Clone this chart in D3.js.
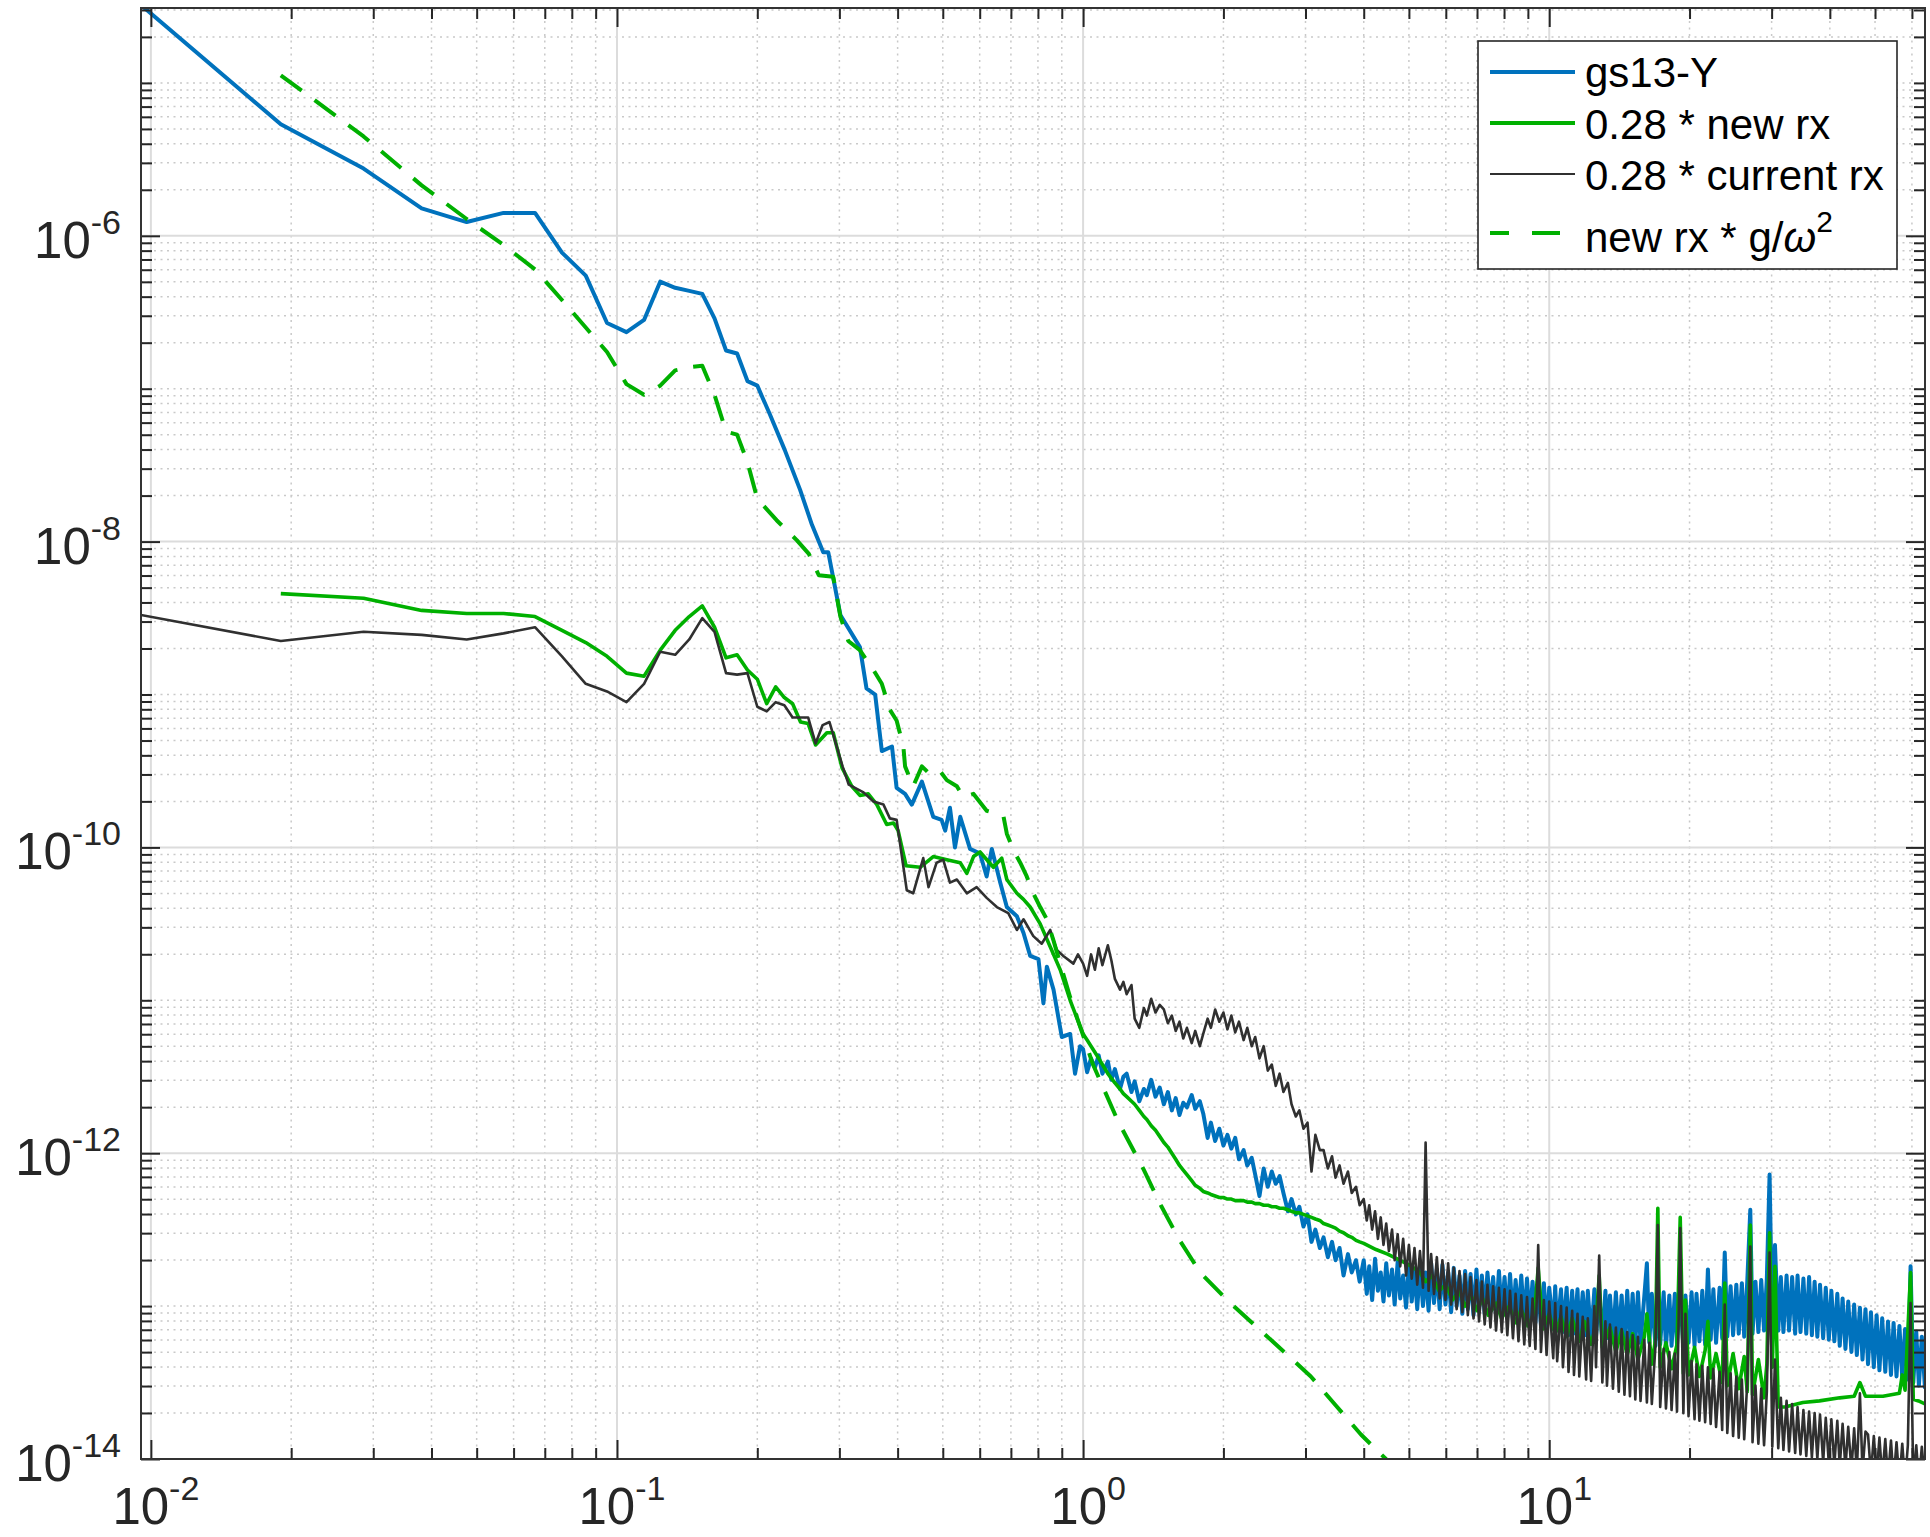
<!DOCTYPE html>
<html>
<head>
<meta charset="utf-8">
<script src="https://cdn.jsdelivr.net/npm/d3@7"></script>
<style>
  html, body { margin: 0; padding: 0; background: #fff; }
  svg { display: block; }
  text { font-family: "Liberation Sans", Arial, Helvetica, sans-serif; }
</style>
</head>
<body>
<svg id="chart" width="1930" height="1537"></svg>
<script>
// ---------------------------------------------------------------------------
// Spectra. Values are log10 of the power spectral density.
// Below 1 Hz each spectrum is a list of [frequency Hz, log10 PSD] pairs.
// 1-4 Hz: shared grid midFreq. 4-64 Hz: shared grid highFreq (gs13-Y and
// current rx); the new rx spectrum keeps its own pairs there.
// ---------------------------------------------------------------------------
const seriesNames = ["gs13-Y", "0.28 * new rx", "0.28 * current rx", "new rx * g/ω²"];
const xTickExponents = [-2, -1, 0, 1];
const yTickExponents = [-14, -12, -10, -8, -6];

const midFreq = [
  1.00, 1.02, 1.04, 1.06, 1.08, 1.10, 1.13, 1.15, 1.17, 1.20,
  1.22, 1.24, 1.27, 1.29, 1.32, 1.35, 1.37, 1.40, 1.43, 1.46,
  1.49, 1.52, 1.55, 1.58, 1.61, 1.64, 1.67, 1.71, 1.74, 1.78,
  1.81, 1.85, 1.88, 1.92, 1.96, 2.00, 2.04, 2.08, 2.12, 2.16,
  2.21, 2.25, 2.30, 2.34, 2.39, 2.44, 2.49, 2.54, 2.59, 2.64,
  2.69, 2.75, 2.80, 2.86, 2.91, 2.97, 3.03, 3.09, 3.15, 3.22,
  3.28, 3.35, 3.42, 3.48, 3.55, 3.62, 3.70, 3.77, 3.85, 3.92
];

const highFreq = [
  4.00, 4.06, 4.11, 4.17, 4.23, 4.29, 4.35, 4.41, 4.47, 4.53,
  4.60, 4.66, 4.73, 4.79, 4.86, 4.93, 5.00, 5.07, 5.14, 5.21,
  5.28, 5.36, 5.43, 5.51, 5.58, 5.66, 5.74, 5.82, 5.90, 5.99,
  6.07, 6.16, 6.24, 6.33, 6.42, 6.51, 6.60, 6.69, 6.78, 6.88,
  6.98, 7.07, 7.17, 7.27, 7.37, 7.48, 7.58, 7.69, 7.80, 7.91,
  8.02, 8.13, 8.24, 8.36, 8.47, 8.59, 8.71, 8.84, 8.96, 9.08,
  9.21, 9.34, 9.47, 9.60, 9.74, 9.87, 10.0, 10.2, 10.3, 10.4,
  10.6, 10.7, 10.9, 11.0, 11.2, 11.3, 11.5, 11.6, 11.8, 12.0,
  12.1, 12.3, 12.5, 12.6, 12.8, 13.0, 13.2, 13.3, 13.5, 13.7,
  13.9, 14.1, 14.3, 14.5, 14.7, 14.9, 15.1, 15.3, 15.5, 15.7,
  16.0, 16.2, 16.4, 16.6, 16.9, 17.1, 17.3, 17.6, 17.8, 18.1,
  18.3, 18.6, 18.8, 19.1, 19.4, 19.6, 19.9, 20.2, 20.5, 20.7,
  21.0, 21.3, 21.6, 21.9, 22.2, 22.5, 22.8, 23.2, 23.5, 23.8,
  24.1, 24.5, 24.8, 25.2, 25.5, 25.9, 26.2, 26.6, 27.0, 27.3,
  27.7, 28.1, 28.5, 28.9, 29.3, 29.7, 30.1, 30.5, 31.0, 31.4,
  31.8, 32.3, 32.7, 33.2, 33.7, 34.1, 34.6, 35.1, 35.6, 36.1,
  36.6, 37.1, 37.6, 38.1, 38.7, 39.2, 39.8, 40.3, 40.9, 41.5,
  42.0, 42.6, 43.2, 43.8, 44.5, 45.1, 45.7, 46.4, 47.0, 47.7,
  48.3, 49.0, 49.7, 50.4, 51.1, 51.8, 52.6, 53.3, 54.1, 54.8,
  55.6, 56.4, 57.2, 58.0, 58.8, 59.6, 60.4, 61.3, 62.1, 63.0,
  64.0
];

// gs13-Y
const gs13Low = [
  [0.00952, -4.49], [0.0190, -5.27], [0.0286, -5.56], [0.0381, -5.82], [0.0476, -5.91],
  [0.0571, -5.85], [0.0667, -5.85], [0.0762, -6.11], [0.0857, -6.26], [0.0952, -6.57],
  [0.1048, -6.63], [0.1143, -6.55], [0.1238, -6.30], [0.1333, -6.34], [0.1429, -6.36],
  [0.1524, -6.38], [0.1619, -6.54], [0.1714, -6.75], [0.1810, -6.77], [0.1905, -6.95],
  [0.2000, -6.98], [0.213, -7.17], [0.229, -7.40], [0.247, -7.66], [0.262, -7.89],
  [0.277, -8.07], [0.284, -8.07], [0.3015, -8.48], [0.332, -8.69], [0.343, -8.96],
  [0.358, -9.00], [0.370, -9.37], [0.389, -9.34], [0.398, -9.61], [0.415, -9.65],
  [0.429, -9.72], [0.451, -9.57], [0.477, -9.80], [0.497, -9.82], [0.506, -9.89],
  [0.518, -9.74], [0.531, -10.00], [0.545, -9.80], [0.572, -10.01], [0.601, -10.04],
  [0.621, -10.19], [0.637, -10.01], [0.664, -10.23], [0.686, -10.39], [0.721, -10.45],
  [0.745, -10.56], [0.770, -10.71], [0.802, -10.73], [0.822, -11.02], [0.836, -10.78],
  [0.864, -10.93], [0.900, -11.24], [0.938, -11.22], [0.961, -11.48], [0.985, -11.30]
];
const gs13Mid = [
  -11.32, -11.47, -11.38, -11.44, -11.36, -11.48, -11.40, -11.52, -11.45, -11.58,
  -11.50, -11.48, -11.60, -11.53, -11.66, -11.58, -11.62, -11.52, -11.63, -11.57,
  -11.68, -11.60, -11.72, -11.64, -11.75, -11.67, -11.70, -11.62, -11.71, -11.66,
  -11.74, -11.90, -11.80, -11.92, -11.84, -11.95, -11.88, -11.97, -11.90, -12.04,
  -11.98, -12.08, -12.03, -12.14, -12.28, -12.10, -12.22, -12.12, -12.20, -12.15,
  -12.26, -12.38, -12.30, -12.40, -12.35, -12.48, -12.40, -12.58, -12.50, -12.62,
  -12.55, -12.68, -12.58, -12.70, -12.62, -12.80, -12.66, -12.78, -12.70, -12.84
];
const gs13High = [
  -12.70, -12.92, -12.74, -12.96, -12.69, -12.90, -12.78, -12.97, -12.72, -12.93,
  -12.76, -12.99, -12.71, -12.95, -12.80, -13.01, -12.73, -12.97, -12.77, -13.02,
  -12.74, -13.00, -12.78, -13.03, -12.72, -12.98, -12.76, -13.02, -12.73, -12.99,
  -12.78, -13.04, -12.75, -13.00, -12.80, -13.05, -12.77, -13.02, -12.79, -13.06,
  -12.76, -13.03, -12.80, -13.05, -12.78, -13.01, -12.81, -13.06, -12.77, -13.04,
  -12.81, -13.07, -12.79, -13.09, -12.83, -13.06, -12.80, -13.10, -12.82, -13.08,
  -12.84, -13.11, -12.86, -13.13, -12.85, -13.14, -12.88, -13.15, -12.87, -13.16,
  -12.89, -13.17, -12.88, -13.19, -12.90, -13.18, -12.89, -13.20, -12.91, -13.19,
  -12.90, -13.21, -12.89, -13.20, -12.92, -13.22, -12.90, -13.21, -12.93, -13.23,
  -12.91, -13.22, -12.93, -13.24, -12.90, -13.23, -12.92, -13.25, -12.91, -13.24,
  -12.93, -12.72, -13.24, -12.92, -13.26, -12.94, -13.25, -12.91, -13.27, -12.93,
  -13.26, -12.92, -13.25, -12.90, -13.27, -12.93, -13.24, -12.91, -13.26, -12.92,
  -13.23, -12.90, -13.25, -12.76, -13.22, -12.89, -13.24, -12.88, -13.21, -12.65,
  -13.20, -12.87, -13.19, -12.86, -13.18, -12.85, -13.20, -12.84, -12.37, -13.18,
  -12.84, -13.17, -12.83, -13.16, -12.82, -12.14, -13.15, -12.60, -13.16, -12.81,
  -13.17, -12.80, -13.16, -12.81, -13.18, -12.80, -13.17, -12.82, -13.18, -12.81,
  -13.19, -12.84, -13.20, -12.86, -13.21, -12.88, -13.22, -12.90, -13.23, -12.92,
  -13.26, -12.95, -13.28, -12.97, -13.30, -12.99, -13.32, -13.01, -13.35, -13.02,
  -13.38, -13.04, -13.40, -13.06, -13.42, -13.08, -13.43, -13.10, -13.45, -13.11,
  -13.46, -13.13, -13.47, -13.15, -13.48, -12.74, -13.50, -13.17, -13.52, -13.20,
  -13.54
];

// 0.28 * new rx
const newRxLow = [
  [0.0190, -8.34], [0.0286, -8.37], [0.0381, -8.45], [0.0476, -8.47], [0.0571, -8.47],
  [0.0667, -8.49], [0.0762, -8.58], [0.0857, -8.66], [0.0952, -8.75], [0.1048, -8.86],
  [0.1143, -8.88], [0.1238, -8.71], [0.1333, -8.58], [0.1429, -8.49], [0.1524, -8.42],
  [0.1619, -8.56], [0.1714, -8.76], [0.1810, -8.74], [0.1905, -8.84], [0.2000, -8.90],
  [0.2095, -9.06], [0.2190, -8.95], [0.2286, -9.02], [0.2381, -9.06], [0.2476, -9.18],
  [0.2571, -9.19], [0.2667, -9.33], [0.282, -9.25], [0.291, -9.25], [0.304, -9.48],
  [0.319, -9.60], [0.332, -9.66], [0.346, -9.65], [0.361, -9.72], [0.379, -9.85],
  [0.392, -9.84], [0.401, -9.89], [0.417, -10.12], [0.447, -10.13], [0.477, -10.06],
  [0.510, -10.08], [0.545, -10.10], [0.563, -10.17], [0.582, -10.06], [0.601, -10.03],
  [0.642, -10.13], [0.669, -10.07], [0.686, -10.21], [0.721, -10.30], [0.745, -10.34],
  [0.770, -10.39], [0.809, -10.50], [0.850, -10.65], [0.893, -10.80], [0.938, -11.00],
  [0.985, -11.17]
];
const newRxMid = [
  -11.22, -11.26, -11.30, -11.34, -11.38, -11.42, -11.48, -11.51, -11.54, -11.58,
  -11.61, -11.63, -11.66, -11.68, -11.72, -11.76, -11.78, -11.82, -11.85, -11.89,
  -11.93, -11.96, -12.00, -12.04, -12.08, -12.11, -12.14, -12.18, -12.21, -12.23,
  -12.25, -12.26, -12.27, -12.28, -12.29, -12.29, -12.30, -12.30, -12.31, -12.31,
  -12.31, -12.32, -12.32, -12.33, -12.33, -12.34, -12.34, -12.35, -12.35, -12.36,
  -12.36, -12.37, -12.38, -12.39, -12.39, -12.40, -12.41, -12.42, -12.43, -12.44,
  -12.46, -12.47, -12.48, -12.49, -12.51, -12.52, -12.54, -12.55, -12.57, -12.58
];
const newRxHigh = [
  [4.00, -12.59], [4.25, -12.63], [4.50, -12.66], [4.78, -12.70], [5.07, -12.74],
  [5.28, -12.78], [5.43, -12.84], [5.60, -12.80], [5.80, -12.90], [6.00, -12.86],
  [6.20, -12.96], [6.40, -12.90], [6.60, -13.00], [6.80, -12.93], [7.00, -13.03],
  [7.20, -12.95], [7.40, -13.06], [7.70, -12.98], [7.90, -13.08], [8.20, -13.00],
  [8.50, -13.11], [8.70, -13.02], [9.00, -13.13], [9.30, -13.04], [9.47, -12.75],
  [9.70, -13.15], [10.0, -13.05], [10.3, -13.18], [10.6, -13.07], [10.9, -13.20],
  [11.2, -13.08], [11.6, -13.23], [11.9, -13.10], [12.3, -13.25], [12.6, -13.12],
  [12.8, -12.80], [13.0, -13.27], [13.5, -13.14], [13.9, -13.30], [14.3, -13.16],
  [14.7, -13.32], [15.1, -13.18], [15.5, -13.35], [16.0, -13.20], [16.2, -13.05],
  [16.6, -13.38], [16.9, -13.22], [17.1, -12.36], [17.3, -13.40], [17.8, -13.24],
  [18.3, -13.41], [18.8, -13.25], [19.1, -12.42], [19.4, -13.44], [19.6, -12.96],
  [19.9, -13.45], [20.5, -13.27], [21.0, -13.46], [21.6, -13.29], [21.9, -13.10],
  [22.2, -13.47], [22.8, -13.31], [23.5, -13.50], [23.8, -12.85], [24.1, -13.52],
  [24.8, -13.31], [25.5, -13.54], [26.2, -13.33], [26.6, -13.56], [27.0, -12.47],
  [27.3, -13.58], [28.1, -13.35], [28.9, -13.60], [29.3, -13.38], [29.7, -12.52],
  [30.1, -13.40], [30.5, -12.74], [31.0, -13.66], [32.0, -13.66], [33.0, -13.65],
  [35.0, -13.63], [38.0, -13.62], [42.0, -13.60], [45.1, -13.59], [46.4, -13.50],
  [47.7, -13.59], [52.0, -13.59], [56.4, -13.57], [57.2, -13.45], [58.0, -13.55],
  [59.6, -12.78], [60.4, -13.61], [62.0, -13.62], [64.0, -13.64]
];

// 0.28 * current rx
const currentRxLow = [
  [0.00952, -8.48], [0.0190, -8.65], [0.0286, -8.59], [0.0381, -8.61], [0.0476, -8.64],
  [0.0571, -8.60], [0.0667, -8.56], [0.0762, -8.75], [0.0857, -8.93], [0.0952, -8.98],
  [0.1048, -9.05], [0.1143, -8.93], [0.1238, -8.72], [0.1333, -8.74], [0.1429, -8.64],
  [0.1524, -8.50], [0.1619, -8.59], [0.1714, -8.86], [0.1810, -8.87], [0.1905, -8.86],
  [0.2000, -9.08], [0.2095, -9.11], [0.2190, -9.05], [0.2286, -9.07], [0.2381, -9.15],
  [0.2571, -9.15], [0.2667, -9.32], [0.2762, -9.20], [0.2857, -9.18], [0.3048, -9.47],
  [0.3143, -9.59], [0.338, -9.64], [0.355, -9.70], [0.373, -9.72], [0.385, -9.81],
  [0.398, -9.82], [0.4185, -10.28], [0.432, -10.30], [0.454, -10.07], [0.466, -10.26],
  [0.485, -10.10], [0.501, -10.08], [0.518, -10.23], [0.536, -10.21], [0.563, -10.30],
  [0.591, -10.26], [0.621, -10.33], [0.653, -10.39], [0.691, -10.43], [0.721, -10.54],
  [0.745, -10.47], [0.782, -10.58], [0.815, -10.63], [0.850, -10.54], [0.878, -10.67],
  [0.907, -10.71], [0.953, -10.76], [0.975, -10.70]
];
const currentRxMid = [
  -10.76, -10.84, -10.70, -10.80, -10.66, -10.77, -10.64, -10.74, -10.86, -10.93,
  -10.88, -10.96, -10.90, -11.12, -11.18, -11.05, -11.10, -10.99, -11.08, -11.03,
  -11.06, -11.15, -11.10, -11.20, -11.14, -11.25, -11.18, -11.28, -11.20, -11.30,
  -11.22, -11.12, -11.18, -11.06, -11.14, -11.08, -11.19, -11.10, -11.21, -11.14,
  -11.26, -11.18, -11.30, -11.24, -11.38, -11.30, -11.46, -11.42, -11.56, -11.48,
  -11.60, -11.54, -11.68, -11.76, -11.72, -11.84, -11.80, -12.12, -11.88, -11.98,
  -11.98, -12.10, -12.02, -12.16, -12.08, -12.20, -12.12, -12.26, -12.22, -12.34
];
const currentRxHigh = [
  -12.30, -12.44, -12.34, -12.50, -12.38, -12.56, -12.42, -12.60, -12.46, -12.64,
  -12.50, -12.70, -12.53, -12.74, -12.56, -12.80, -12.60, -12.82, -12.62, -12.86,
  -12.64, -12.88, -11.93, -12.90, -12.66, -12.92, -12.68, -12.95, -12.70, -12.96,
  -12.72, -12.99, -12.75, -13.02, -12.77, -13.04, -12.79, -13.06, -12.81, -13.08,
  -12.83, -13.10, -12.84, -13.12, -12.86, -13.14, -12.87, -13.16, -12.88, -13.17,
  -12.89, -13.19, -12.90, -13.21, -12.92, -13.23, -12.93, -13.25, -12.94, -13.26,
  -12.95, -13.28, -12.60, -13.30, -12.96, -13.32, -12.97, -13.34, -12.98, -13.36,
  -13.00, -13.40, -13.01, -13.43, -13.03, -13.45, -13.05, -13.46, -13.07, -13.48,
  -13.08, -13.49, -13.00, -13.40, -12.67, -13.50, -13.10, -13.52, -13.12, -13.54,
  -13.14, -13.56, -13.15, -13.58, -13.17, -13.59, -13.19, -13.61, -13.20, -13.62,
  -13.22, -13.63, -13.24, -13.64, -13.26, -12.47, -13.66, -13.28, -13.67, -13.30,
  -13.68, -13.31, -13.69, -12.49, -13.70, -13.05, -13.72, -13.36, -13.74, -13.38,
  -13.75, -13.39, -13.76, -13.40, -13.77, -13.41, -13.79, -13.43, -13.81, -12.99,
  -13.83, -13.44, -13.85, -13.46, -13.86, -13.48, -13.87, -13.50, -12.61, -13.89,
  -13.52, -13.90, -13.54, -13.91, -13.56, -12.65, -13.92, -13.35, -13.93, -13.60,
  -13.94, -13.62, -13.95, -13.64, -13.96, -13.66, -13.97, -13.68, -13.98, -13.69,
  -13.99, -13.70, -14.00, -13.71, -14.02, -13.73, -14.03, -13.74, -14.04, -13.75,
  -14.05, -13.77, -14.06, -13.79, -14.07, -13.80, -14.08, -13.57, -14.08, -13.82,
  -13.84, -14.10, -13.85, -14.11, -13.86, -14.12, -13.87, -14.13, -13.88, -14.14,
  -13.89, -14.15, -13.90, -14.15, -13.91, -12.98, -14.15, -13.91, -14.15, -13.92,
  -14.15
];

// new rx * g / omega^2
const newRxTilt = [
  [0.0190, -4.95], [0.0286, -5.35], [0.0381, -5.67], [0.0476, -5.89], [0.0571, -6.06],
  [0.0667, -6.22], [0.0762, -6.42], [0.0857, -6.60], [0.0952, -6.76], [0.1048, -6.97],
  [0.1143, -7.04], [0.1238, -6.98], [0.1333, -6.88], [0.1429, -6.86], [0.1524, -6.85],
  [0.1619, -7.04], [0.1714, -7.28], [0.1810, -7.30], [0.1905, -7.48], [0.2000, -7.72],
  [0.220, -7.86], [0.243, -7.99], [0.258, -8.08], [0.271, -8.22], [0.291, -8.23],
  [0.3015, -8.49], [0.3135, -8.65], [0.332, -8.71], [0.355, -8.84], [0.370, -8.93],
  [0.385, -9.10], [0.398, -9.17], [0.4115, -9.34], [0.415, -9.47], [0.432, -9.60],
  [0.451, -9.47], [0.469, -9.52], [0.493, -9.50], [0.510, -9.56], [0.536, -9.60],
  [0.553, -9.67], [0.582, -9.65], [0.621, -9.76], [0.653, -9.78], [0.675, -9.80],
  [0.686, -9.91], [0.709, -10.02], [0.733, -10.10], [0.757, -10.19], [0.782, -10.30],
  [0.809, -10.39], [0.836, -10.47], [0.864, -10.61], [0.893, -10.76], [0.938, -10.98],
  [1.050, -11.42], [1.188, -11.79], [1.345, -12.10], [1.468, -12.34], [1.604, -12.56],
  [1.783, -12.78], [2.053, -12.97], [2.364, -13.14], [2.723, -13.31], [3.08, -13.46],
  [3.485, -13.65], [3.945, -13.84], [4.463, -14.00], [5.0, -14.20]
];

// ---------------------------------------------------------------------------
const svg = d3.select("#chart");
const W = 1930, H = 1537;
const plot = { left: 141, right: 1925, top: 8, bottom: 1459 };

const x = d3.scaleLog().domain([0.009524, 64]).range([plot.left, plot.right]);
const y = d3.scaleLog().domain([1e-14, Math.pow(10, -4.51)]).range([plot.bottom, plot.top]);

const toPoint = ([f, lg]) => ({ f, p: Math.pow(10, lg) });
const onGrid = (freqs, vals) => freqs.map((f, i) => toPoint([f, vals[i]]));

const series = [
  { data: gs13Low.map(toPoint).concat(onGrid(midFreq, gs13Mid), onGrid(highFreq, gs13High)),
    color: "#0072bd", width: 4, keyWidth: 4, dash: null },
  { data: newRxLow.map(toPoint).concat(onGrid(midFreq, newRxMid), newRxHigh.map(toPoint)),
    color: "#00b000", width: 3.6, keyWidth: 4, dash: null },
  { data: currentRxLow.map(toPoint).concat(onGrid(midFreq, currentRxMid), onGrid(highFreq, currentRxHigh)),
    color: "#303030", width: 2.6, keyWidth: 2.2, dash: null },
  { data: newRxTilt.map(toPoint), color: "#00b000", width: 4, keyWidth: 4, dash: "26,16" }
];
series.forEach((s, i) => { s.name = seriesNames[i]; });

svg.append("rect").attr("width", W).attr("height", H).attr("fill", "#fff");

// tick values
const xMajor = xTickExponents.map(e => Math.pow(10, e));
const xMinor = [];
for (let e = -3; e <= 1; e++) for (let m = 2; m <= 9; m++) {
  const v = m * Math.pow(10, e);
  if (v >= x.domain()[0] && v <= x.domain()[1]) xMinor.push(v);
}
const yMajor = yTickExponents.map(e => Math.pow(10, e));
const yMinor = [];
for (let e = -14; e <= -5; e++) for (let m = 1; m <= 9; m++) {
  if (m === 1 && yTickExponents.includes(e)) continue;
  const v = m * Math.pow(10, e);
  if (v >= y.domain()[0] * 0.999 && v <= y.domain()[1]) yMinor.push(v);
}

// grid
const grid = svg.append("g");
grid.selectAll(".gxm").data(xMinor).join("line")
  .attr("x1", d => x(d)).attr("x2", d => x(d)).attr("y1", plot.top).attr("y2", plot.bottom)
  .attr("stroke", "#c9c9c9").attr("stroke-width", 1.5).attr("stroke-dasharray", "2,4.5");
grid.selectAll(".gym").data(yMinor).join("line")
  .attr("y1", d => y(d)).attr("y2", d => y(d)).attr("x1", plot.left).attr("x2", plot.right)
  .attr("stroke", "#c9c9c9").attr("stroke-width", 1.5).attr("stroke-dasharray", "2,4.5");
grid.selectAll(".gxM").data(xMajor).join("line")
  .attr("x1", d => x(d)).attr("x2", d => x(d)).attr("y1", plot.top).attr("y2", plot.bottom)
  .attr("stroke", "#dcdcdc").attr("stroke-width", 2);
grid.selectAll(".gyM").data(yMajor).join("line")
  .attr("y1", d => y(d)).attr("y2", d => y(d)).attr("x1", plot.left).attr("x2", plot.right)
  .attr("stroke", "#dcdcdc").attr("stroke-width", 2);

// data
svg.append("clipPath").attr("id", "plotClip").append("rect")
  .attr("x", plot.left).attr("y", plot.top)
  .attr("width", plot.right - plot.left).attr("height", plot.bottom - plot.top);

const line = d3.line().x(d => x(d.f)).y(d => y(d.p));
const lines = svg.append("g").attr("clip-path", "url(#plotClip)");
series.forEach(s => {
  lines.append("path").datum(s.data)
    .attr("d", line)
    .attr("fill", "none")
    .attr("stroke", s.color)
    .attr("stroke-width", s.width)
    .attr("stroke-linejoin", "round")
    .attr("stroke-dasharray", s.dash);
});

// axes: inward ticks on all four sides
const tickColor = "#262626";
function addAxis(axis, transform) {
  const g = svg.append("g").attr("transform", transform).call(axis);
  g.select(".domain").remove();
  g.selectAll(".tick line").attr("stroke", tickColor).attr("stroke-width", 2);
  g.selectAll(".tick text").remove();
}
const major = 19, minor = 11;
addAxis(d3.axisBottom(x).tickValues(xMajor).tickSize(-major).tickFormat(""), `translate(0,${plot.bottom})`);
addAxis(d3.axisBottom(x).tickValues(xMinor).tickSize(-minor).tickFormat(""), `translate(0,${plot.bottom})`);
addAxis(d3.axisTop(x).tickValues(xMajor).tickSize(-major).tickFormat(""), `translate(0,${plot.top})`);
addAxis(d3.axisTop(x).tickValues(xMinor).tickSize(-minor).tickFormat(""), `translate(0,${plot.top})`);
addAxis(d3.axisLeft(y).tickValues(yMajor).tickSize(-major).tickFormat(""), `translate(${plot.left},0)`);
addAxis(d3.axisLeft(y).tickValues(yMinor).tickSize(-minor).tickFormat(""), `translate(${plot.left},0)`);
addAxis(d3.axisRight(y).tickValues(yMajor).tickSize(-major).tickFormat(""), `translate(${plot.right},0)`);
addAxis(d3.axisRight(y).tickValues(yMinor).tickSize(-minor).tickFormat(""), `translate(${plot.right},0)`);

svg.append("rect")
  .attr("x", plot.left).attr("y", plot.top)
  .attr("width", plot.right - plot.left).attr("height", plot.bottom - plot.top)
  .attr("fill", "none").attr("stroke", "#333").attr("stroke-width", 2);

// tick labels 10^n
function powerLabel(g, exp, px, py, anchor) {
  const t = g.append("text").attr("x", px).attr("y", py)
    .attr("text-anchor", anchor).attr("fill", tickColor).attr("font-size", 51);
  t.append("tspan").text("10");
  t.append("tspan").attr("dy", -24).attr("font-size", 34).text(String(exp));
}
const labels = svg.append("g");
xTickExponents.forEach(e => powerLabel(labels, e, x(Math.pow(10, e)) + 5, 1524, "middle"));
yTickExponents.forEach(e => powerLabel(labels, e, 121, y(Math.pow(10, e)) + 22, "end"));

// legend
const lg = svg.append("g");
lg.append("rect").attr("x", 1478).attr("y", 41).attr("width", 419).attr("height", 228)
  .attr("fill", "#fff").attr("stroke", "#262626").attr("stroke-width", 1.6);
const rowY = [72, 123, 174, 233];
const textY = [87, 139, 190, 252];
series.forEach((s, i) => {
  lg.append("line").attr("x1", 1490).attr("x2", 1575).attr("y1", rowY[i]).attr("y2", rowY[i])
    .attr("stroke", s.color).attr("stroke-width", s.keyWidth)
    .attr("stroke-dasharray", s.dash ? "19,23,28,40" : null);
  const t = lg.append("text").attr("x", 1585).attr("y", textY[i])
    .attr("font-size", 42).attr("fill", "#000");
  if (i < 3) {
    t.text(s.name);
  } else {
    t.append("tspan").text("new rx * g/");
    t.append("tspan").attr("font-style", "italic").text("ω");
    t.append("tspan").attr("dy", -20).attr("font-size", 30).text("2");
  }
});
</script>
</body>
</html>
